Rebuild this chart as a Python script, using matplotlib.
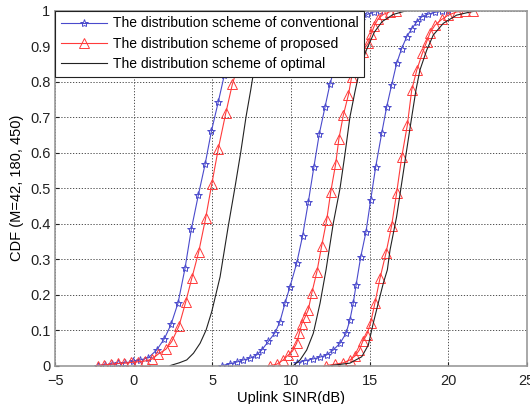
import numpy as np
import matplotlib
matplotlib.use("Agg")
import matplotlib.pyplot as plt

plt.rcParams["font.family"] = ["Liberation Sans", "DejaVu Sans"]

# Values (x in dB, y = CDF)
# M = 42
conv_42_x = [-2.25, -1.82, -1.4, -0.97, -0.55, -0.02, 0.4, 0.93, 1.46, 1.95, 2.37, 2.82, 3.26, 3.66,
             4.11, 4.54, 4.94, 5.38, 5.76, 6.2, 6.6, 7.0, 7.4, 7.85, 8.3, 8.7, 9.1, 9.5]
conv_42_y = [0.0, 0.002, 0.004, 0.006, 0.008, 0.012, 0.016, 0.022, 0.044, 0.076, 0.116, 0.177, 0.274, 0.384,
             0.481, 0.568, 0.661, 0.744, 0.819, 0.87, 0.91, 0.94, 0.96, 0.975, 0.985, 0.99, 0.995, 1.0]
prop_42_x = [-2.3, -1.9, -1.45, -1.0, -0.6, -0.15, 0.3, 0.72, 1.15, 1.57, 2.04, 2.42, 2.88, 3.31, 3.69,
             4.13, 4.57, 4.96, 5.38, 5.85, 6.27, 6.7, 7.1, 7.5, 7.95, 8.4, 8.8, 9.2, 9.6, 10.05]
prop_42_y = [0.0, 0.002, 0.004, 0.006, 0.007, 0.009, 0.011, 0.013, 0.018, 0.033, 0.046, 0.068, 0.112, 0.18, 0.246,
             0.32, 0.415, 0.511, 0.612, 0.711, 0.793, 0.855, 0.9, 0.935, 0.96, 0.977, 0.988, 0.994, 0.998, 1.0]
opt_42_x = [2.31, 2.9, 3.37, 3.8, 4.22, 4.6, 4.96, 5.49, 6.0, 6.44, 6.81, 7.14, 7.44, 7.61, 8.0, 8.5, 9.0, 9.5, 10.0]
opt_42_y = [0.0, 0.008, 0.016, 0.035, 0.063, 0.1, 0.152, 0.25, 0.39, 0.503, 0.603, 0.701, 0.777, 0.824,
            0.87, 0.92, 0.96, 0.985, 1.0]

# M = 180
conv_180_x = [5.6, 6.1, 6.55, 6.97, 7.4, 7.82, 8.14, 8.56, 8.99, 9.3, 9.62, 9.94, 10.36, 10.74, 11.1, 11.46,
              11.8, 12.16, 12.48, 12.85, 13.25, 13.65, 14.05, 14.45, 14.85, 15.25, 15.65]
conv_180_y = [0.0, 0.005, 0.01, 0.016, 0.021, 0.03, 0.044, 0.068, 0.093, 0.124, 0.176, 0.223, 0.288, 0.366,
              0.46, 0.561, 0.653, 0.728, 0.794, 0.85, 0.895, 0.93, 0.955, 0.975, 0.99, 0.997, 1.0]
prop_180_x = [8.67, 9.1, 9.51, 9.83, 10.1, 10.36, 10.53, 10.68, 10.9, 11.1, 11.32, 11.65, 11.95, 12.27, 12.53,
              12.84, 13.05, 13.33, 13.65, 13.86, 14.2, 14.55, 14.92, 15.1, 15.3, 15.55, 15.87, 16.3, 16.7]
prop_180_y = [0.0, 0.004, 0.016, 0.03, 0.041, 0.063, 0.091, 0.117, 0.137, 0.157, 0.204, 0.265, 0.337, 0.41,
              0.49, 0.568, 0.64, 0.706, 0.763, 0.814, 0.855, 0.885, 0.91, 0.935, 0.958, 0.978, 0.99, 0.998, 1.0]
opt_180_x = [10.15, 10.58, 11.0, 11.42, 11.85, 12.23, 12.69, 13.12, 13.44, 13.75, 14.07, 14.4, 14.8, 15.3,
             15.8, 16.5, 17.3]
opt_180_y = [0.0, 0.016, 0.044, 0.091, 0.176, 0.27, 0.401, 0.5, 0.598, 0.701, 0.772, 0.84, 0.89, 0.94,
             0.97, 0.99, 1.0]

# M = 450
conv_450_x = [10.36, 10.9, 11.42, 11.85, 12.27, 12.69, 13.12, 13.5, 13.75, 13.96, 14.14, 14.43, 14.77, 15.07,
              15.39, 15.77, 16.09, 16.4, 16.72, 17.04, 17.36, 17.68, 18.0, 18.31, 18.73, 19.16, 19.59, 20.0]
conv_450_y = [0.008, 0.014, 0.019, 0.024, 0.03, 0.044, 0.063, 0.091, 0.129, 0.176, 0.227, 0.305, 0.377, 0.467,
              0.561, 0.655, 0.73, 0.791, 0.852, 0.894, 0.927, 0.95, 0.969, 0.983, 0.991, 0.996, 1.0, 1.0]
prop_450_x = [12.2, 12.8, 13.33, 13.75, 14.07, 14.35, 14.56, 14.81, 15.07, 15.34, 15.66, 16.04, 16.4, 16.72,
              17.04, 17.4, 17.68, 18.0, 18.35, 18.63, 18.84, 19.16, 19.59, 20.0, 20.53, 21.06, 21.6]
prop_450_y = [0.0, 0.004, 0.008, 0.016, 0.027, 0.044, 0.068, 0.086, 0.121, 0.177, 0.246, 0.317, 0.394, 0.487,
              0.587, 0.678, 0.777, 0.833, 0.88, 0.913, 0.938, 0.96, 0.976, 0.988, 0.997, 1.0, 1.0]
opt_450_x = [12.5, 13.75, 14.5, 14.92, 15.23, 15.55, 15.87, 16.13, 16.3, 16.72, 17.04, 17.36, 17.68, 17.95,
             18.2, 18.63, 19.05, 19.69, 20.53, 21.4, 21.8]
opt_450_y = [0.0, 0.007, 0.025, 0.058, 0.119, 0.176, 0.232, 0.27, 0.326, 0.42, 0.514, 0.608, 0.701, 0.777,
             0.833, 0.889, 0.932, 0.965, 0.988, 0.997, 1.0]

labels = ["The distribution scheme of conventional",
          "The distribution scheme of proposed",
          "The distribution scheme of optimal"]
x_ticks = [-5, 0, 5, 10, 15, 20, 25]
y_ticks = [0, 0.1, 0.2, 0.3, 0.4, 0.5, 0.6, 0.7, 0.8, 0.9, 1]

blue = "#4a4acc"
red = "#ff3b3b"

fig = plt.figure(figsize=(5.3, 4.04), dpi=100)
ax = fig.add_axes([0.104, 0.095, 0.89, 0.878])

conv = [(conv_42_x, conv_42_y), (conv_180_x, conv_180_y), (conv_450_x, conv_450_y)]
prop = [(prop_42_x, prop_42_y), (prop_180_x, prop_180_y), (prop_450_x, prop_450_y)]
opt = [(opt_42_x, opt_42_y), (opt_180_x, opt_180_y), (opt_450_x, opt_450_y)]

for i, (x, y) in enumerate(conv):
    ax.plot(x, y, color=blue, lw=0.8, marker="*", ms=6, mfc="none", mew=0.7,
            label=labels[0] if i == 0 else None)
for i, (x, y) in enumerate(prop):
    ax.plot(x, y, color=red, lw=0.8, marker="^", ms=7, mfc="none", mew=0.7,
            label=labels[1] if i == 0 else None)
for i, (x, y) in enumerate(opt):
    ax.plot(x, y, color="#222222", lw=0.8, label=labels[2] if i == 0 else None)

ax.set_xlim(-5, 25)
ax.set_ylim(0, 1)
ax.set_xticks(x_ticks)
ax.set_yticks(y_ticks)
ax.set_yticklabels([f"{v:g}" for v in y_ticks])
ax.tick_params(direction="in", length=3, labelsize=10.5, colors="#222222")
ax.tick_params(axis="x", pad=6)
ax.grid(True, color="#333333", linestyle=(0, (1.5, 2)), linewidth=0.6)
for s in ax.spines.values():
    s.set_color("#999999")
    s.set_linewidth(1.2)

ax.set_xlabel("Uplink SINR(dB)", fontsize=10.5, labelpad=2)
ax.set_ylabel("CDF (M=42, 180, 450)", fontsize=10.5, labelpad=4)

leg = ax.legend(loc="upper left", fontsize=10, frameon=True, fancybox=False,
                edgecolor="#222222", framealpha=1, borderaxespad=0,
                handlelength=3.3, handletextpad=0.45, labelspacing=0.45, borderpad=0.4)
leg.get_frame().set_linewidth(0.8)

fig.savefig("out.png", dpi=100)
